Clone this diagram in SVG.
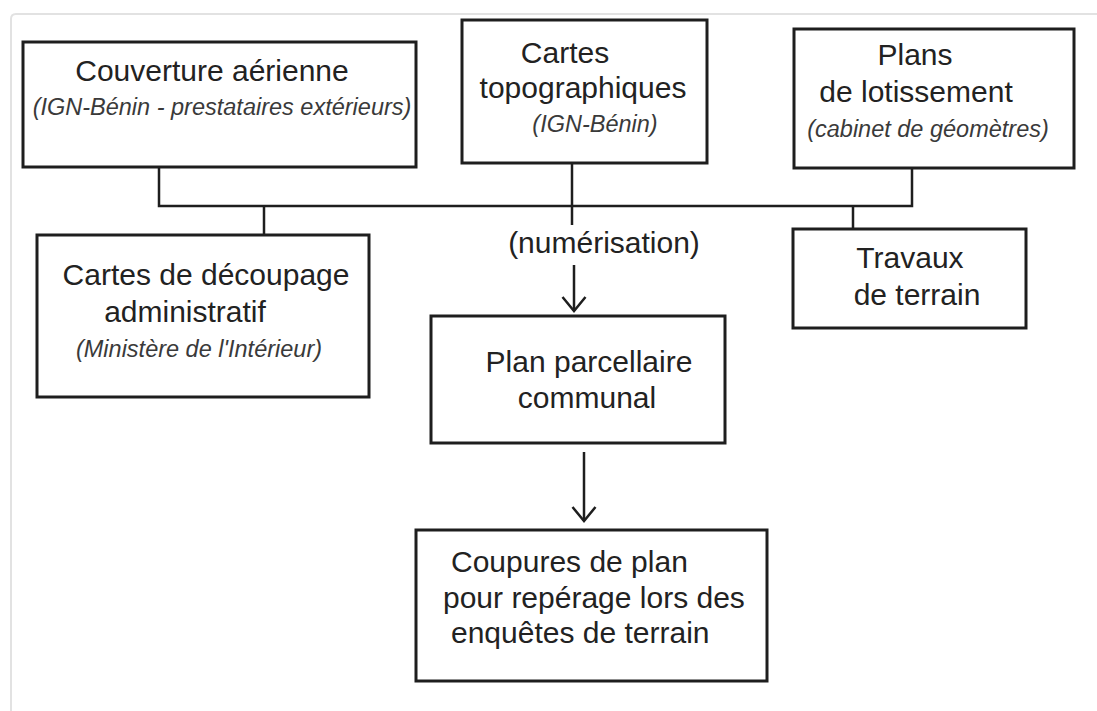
<svg xmlns="http://www.w3.org/2000/svg" width="1097" height="711" viewBox="0 0 1097 711">
<defs>
<style>
.box{fill:#fff;stroke:#1e1e1e;stroke-width:3}
.t{font-family:"Liberation Sans",Arial,sans-serif;font-size:30px;fill:#222;text-anchor:middle}
.i{font-family:"Liberation Sans",Arial,sans-serif;font-size:23.5px;font-style:italic;fill:#3a3a3a;text-anchor:middle}
.l{text-anchor:start}
.c{fill:none;stroke:#1e1e1e;stroke-width:2.5}
</style>
<marker id="arr" markerWidth="18" markerHeight="26" refX="15" refY="13" orient="auto" markerUnits="userSpaceOnUse" viewBox="0 0 18 26">
<path d="M1,1.5 L15,13 L1,24.5" fill="none" stroke="#1e1e1e" stroke-width="2.5"/>
</marker>
</defs>
<rect width="1097" height="711" fill="#fff"/>
<path d="M11,711 L11,19 Q11,14 16,14 L1097,14" fill="none" stroke="#e2e2e2" stroke-width="2"/>

<g id="connectors">
<path class="c" d="M159,167 L159,206 L912,206 L912,168"/>
<path class="c" d="M572,163 L572,225"/>
<path class="c" d="M264,206 L264,235"/>
<path class="c" d="M853,206 L853,229"/>
<path class="c" d="M574,265 L574,311" marker-end="url(#arr)"/>
<path class="c" d="M584,452 L584,521" marker-end="url(#arr)"/>
</g>

<g id="couverture">
<rect class="box" x="23" y="42" width="393" height="125"/>
<text class="t" x="212" y="81">Couverture aérienne</text>
<text class="i" x="222" y="115">(IGN-Bénin - prestataires extérieurs)</text>
</g>

<g id="cartes-topo">
<rect class="box" x="462" y="20" width="245" height="143"/>
<text class="t" x="565" y="63">Cartes</text>
<text class="t" x="583" y="98">topographiques</text>
<text class="i" x="595" y="132">(IGN-Bénin)</text>
</g>

<g id="plans-lotissement">
<rect class="box" x="794" y="29" width="280" height="139"/>
<text class="t" x="915" y="65">Plans</text>
<text class="t" x="916" y="102">de lotissement</text>
<text class="i" x="928" y="137">(cabinet de géomètres)</text>
</g>

<g id="travaux">
<rect class="box" x="793" y="229" width="233" height="99"/>
<text class="t" x="910" y="268">Travaux</text>
<text class="t" x="917" y="305">de terrain</text>
</g>

<g id="decoupage">
<rect class="box" x="37" y="235" width="332" height="162"/>
<text class="t" x="206" y="285">Cartes de découpage</text>
<text class="t" x="185" y="322">administratif</text>
<text class="i" x="199" y="357">(Ministère de l'Intérieur)</text>
</g>

<g id="numerisation">
<text class="t" x="604" y="253">(numérisation)</text>
</g>

<g id="plan-parcellaire">
<rect class="box" x="431" y="316" width="294" height="127"/>
<text class="t" x="589" y="372">Plan parcellaire</text>
<text class="t" x="587" y="408">communal</text>
</g>

<g id="coupures">
<rect class="box" x="416" y="530" width="351" height="151"/>
<text class="t l" x="451" y="572">Coupures de plan</text>
<text class="t l" x="443" y="608">pour repérage lors des</text>
<text class="t l" x="451" y="643">enquêtes de terrain</text>
</g>
</svg>
